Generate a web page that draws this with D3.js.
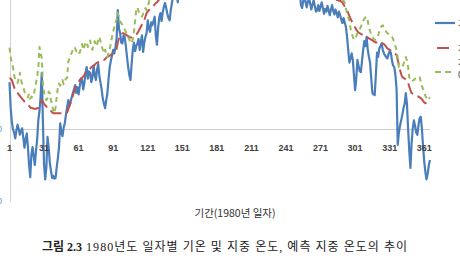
<!DOCTYPE html>
<html>
<head>
<meta charset="utf-8">
<script src="https://cdn.jsdelivr.net/npm/d3@7"></script>
<style>
  body { margin: 0; background: #fff; }
  svg { display: block; }
</style>
</head>
<body>
<div id="chart"></div>
<script>
// daily air temperature, 1980 (day 1..366)
var airTemp = [
  6.5, 3.0, 1.0, 0.0, -0.5, -1.3, -0.2, 0.6, 0.0, -0.8,        // 1
  -0.3, 0.1, -1.2, -2.6, -1.5, -0.6, -2.5, -5.0, -6.7, -3.6,   // 11
  -2.5, -3.8, -5.0, -3.0, -1.5, 1.2, 2.5, 4.5, 7.8, 1.0,       // 21
  -5.0, -7.0, -5.3, -1.1, -2.5, -4.7, -5.8, -6.8, -6.5, -6.9,  // 31
  -6.8, -5.3, -4.0, -2.5, 0.8, -0.5, -1.0, 0.2, 0.8, 2.0,      // 41
  3.0, 4.0, 3.2, 3.8, 4.4, 5.0, 5.5, 6.1, 5.0, 5.8,            // 51
  4.8, 6.0, 7.0, 6.8, 5.5, 6.4, 7.8, 8.6, 7.0, 8.0,            // 61
  7.8, 6.5, 7.2, 8.8, 7.5, 6.8, 8.2, 9.0, 7.4, 6.4,            // 71
  5.5, 4.2, 3.5, 2.9, 4.0, 5.0, 7.0, 8.6, 9.5, 10.2,           // 81
  11.0, 10.5, 11.4, 12.6, 16.5, 14.0, 13.3, 12.0, 11.9, 13.0,  // 91
  12.8, 11.5, 10.0, 8.6, 7.5, 6.8, 9.0, 11.0, 12.0, 10.8,      // 101
  11.5, 11.9, 12.5, 11.0, 12.2, 13.0, 10.7, 12.0, 12.8, 13.3,  // 111
  15.1, 14.0, 13.5, 14.8, 14.4, 15.0, 15.6, 13.0, 11.7, 14.0,  // 121
  15.5, 16.1, 15.0, 16.2, 17.0, 17.5, 16.8, 16.0, 15.4, 15.1,  // 131
  16.5, 17.5, 18.5, 19.0, 18.2, 19.5, 17.6, 19.0, 18.6, 20.0,  // 141
  19.5, 20.3, 21.0, 20.2, 19.4, 20.8, 21.5, 22.0, 21.2, 20.5,  // 151
  21.8, 22.5, 21.9, 20.8, 21.6, 22.8, 23.1, 22.4, 21.5, 22.2,  // 161
  23.0, 22.6, 21.8, 22.9, 23.5, 22.8, 22.0, 23.2, 24.0, 23.4,  // 171
  22.6, 23.8, 24.5, 23.7, 22.9, 23.5, 24.6, 25.1, 24.2, 23.6,  // 181
  24.8, 25.5, 24.9, 24.0, 25.2, 25.9, 25.0, 24.3, 25.6, 26.2,  // 191
  25.4, 24.7, 25.8, 26.5, 25.7, 24.9, 25.9, 26.4, 25.6, 24.8,  // 201
  25.5, 26.1, 25.3, 24.6, 25.4, 26.0, 25.1, 24.3, 25.0, 25.6,  // 211
  24.8, 24.0, 24.7, 25.3, 24.4, 23.6, 24.2, 24.9, 24.0, 23.2,  // 221
  23.8, 24.3, 23.4, 22.6, 23.1, 22.5, 21.7, 22.4, 22.9, 21.9,  // 231
  21.2, 21.8, 20.9, 20.3, 20.9, 20.1, 19.5, 20.2, 19.4, 18.8,  // 241
  19.3, 18.6, 18.9, 17.2, 16.8, 17.8, 18.4, 17.6, 16.9, 17.7,  // 251
  18.2, 17.4, 16.6, 17.3, 17.9, 17.1, 16.3, 16.5, 17.2, 16.4,  // 261
  17.0, 17.6, 16.8, 16.0, 16.7, 16.3, 17.1, 16.5, 15.8, 16.6,  // 271
  17.2, 16.4, 15.9, 16.6, 16.1, 15.5, 16.3, 15.8, 15.2, 14.7,  // 281
  15.4, 14.8, 14.2, 12.8, 11.0, 9.2, 9.8, 10.5, 9.6, 7.5,      // 291
  5.4, 7.0, 9.6, 8.8, 8.0, 7.9, 9.5, 11.0, 12.2, 11.5,         // 301
  12.8, 11.0, 10.0, 9.2, 7.0, 5.0, 4.8, 4.7, 7.5, 10.6,        // 311
  10.0, 11.2, 11.5, 11.9, 11.0, 10.5, 10.2, 10.0, 9.8, 10.4,   // 321
  10.8, 10.6, 9.5, 8.8, 8.6, 7.5, 5.5, -2.2, -0.5, 0.5,        // 331
  1.2, 2.0, 2.9, 3.5, 5.0, 3.5, 0.0, -3.0, -5.4, -2.0,         // 341
  0.0, 1.2, 0.5, -0.5, -0.8, 0.5, 1.5, 1.7, 0.0, -2.5,         // 351
  -4.5, -6.0, -7.0, -6.2, -5.0, -4.3                           // 361
];

// measured ground temperature
var groundTemp = [
  7.0, 7.0, 6.8, 6.3, 5.8, 5.4, 5.2, 5.0, 4.8, 4.6,
  4.4, 4.2, 4.0, 3.8, 3.7, 3.5, 3.4, 3.2, 3.0, 2.9,
  2.9, 2.8, 2.8, 2.8, 2.9, 2.9, 3.2, 3.6, 4.0, 3.8,
  3.5, 3.3, 3.1, 3.1, 2.9, 2.7, 2.5, 2.3, 2.2, 2.2,
  2.2, 2.2, 2.2, 2.2, 2.2, 2.2, 2.2, 2.2, 2.2, 2.2,
  2.3, 2.7, 3.2, 3.6, 4.1, 4.6, 5.2, 5.7, 6.0, 6.3,
  6.5, 6.8, 7.0, 7.1, 7.3, 7.5, 7.8, 8.0, 8.2, 8.3,
  8.4, 8.6, 8.7, 8.8, 8.9, 9.1, 9.2, 9.3, 9.4, 9.4,
  9.5, 9.6, 9.6, 9.7, 9.9, 10.0, 10.1, 10.2, 10.3, 10.4,
  10.5, 10.6, 10.7, 11.2, 12.0, 12.6, 13.0, 13.2, 13.3, 13.3,
  13.2, 13.1, 13.0, 12.9, 12.8, 12.7, 12.7, 12.8, 12.9, 13.0,
  13.1, 13.3, 13.6, 13.9, 14.2, 14.5, 14.7, 15.1, 15.6, 16.1,
  16.3, 16.5, 16.6, 16.8, 16.9, 17.1, 17.3, 17.5, 17.6, 17.8,
  18.0, 18.2, 18.4, 18.6, 18.8, 19.0, 19.2, 19.3, 19.4, 19.5,
  19.7, 19.9, 20.1, 20.3, 20.4, 20.6, 20.8, 20.9, 21.0, 21.2,
  21.4, 21.6, 21.8, 21.9, 22.0, 22.1, 22.3, 22.5, 22.6, 22.7,
  22.8, 23.0, 23.1, 23.2, 23.3, 23.5, 23.7, 23.8, 23.9, 24.0,
  24.1, 24.2, 24.3, 24.4, 24.5, 24.6, 24.6, 24.7, 24.8, 24.9,
  25.0, 25.1, 25.2, 25.3, 25.3, 25.4, 25.5, 25.6, 25.7, 25.8,
  25.9, 26.0, 26.1, 26.1, 26.2, 26.3, 26.4, 26.4, 26.5, 26.6,
  26.7, 26.7, 26.8, 26.9, 27.0, 27.0, 27.1, 27.1, 27.2, 27.2,
  27.2, 27.3, 27.3, 27.3, 27.3, 27.3, 27.2, 27.2, 27.1, 27.1,
  27.0, 26.9, 26.9, 26.8, 26.7, 26.6, 26.5, 26.4, 26.3, 26.2,
  26.1, 26.0, 25.9, 25.7, 25.6, 25.4, 25.3, 25.1, 25.0, 24.8,
  24.6, 24.5, 24.3, 24.1, 23.9, 23.7, 23.5, 23.3, 23.1, 22.9,
  22.7, 22.5, 22.3, 22.1, 21.9, 21.7, 21.5, 21.3, 21.2, 21.0,
  20.8, 20.7, 20.5, 20.4, 20.2, 20.1, 19.9, 19.8, 19.7, 19.5,
  19.4, 19.3, 19.2, 19.0, 18.9, 18.8, 18.7, 18.6, 18.5, 18.4,
  18.3, 18.2, 18.1, 18.0, 17.9, 17.9, 17.8, 17.8, 17.7, 17.6,
  17.3, 17.0, 16.7, 16.5, 16.1, 15.7, 15.3, 15.0, 14.7, 14.4,
  14.1, 13.8, 13.6, 13.4, 13.3, 13.2, 13.1, 13.0, 12.9, 12.9,
  12.8, 12.7, 12.6, 12.5, 12.4, 12.3, 12.2, 12.1, 12.0, 12.0,
  12.0, 12.0, 11.9, 11.9, 11.9, 11.8, 11.6, 11.4, 11.2, 11.1,
  11.0, 10.9, 10.8, 10.7, 10.5, 10.4, 10.3, 9.6, 8.9, 8.2,
  7.6, 7.2, 7.1, 7.0, 6.9, 6.8, 6.4, 5.9, 5.4, 5.0,
  4.9, 4.8, 4.7, 4.6, 4.5, 4.5, 4.4, 4.3, 4.1, 3.9,
  3.7, 3.6, 3.5, 3.3, 3.2, 3.1
];

// predicted ground temperature
var predTemp = [
  11.3, 10.0, 9.2, 8.6, 7.5, 6.8, 6.5, 6.4, 7.0, 7.8,
  6.8, 6.2, 5.8, 5.2, 4.8, 4.6, 4.4, 4.9, 4.2, 4.5,
  4.4, 4.8, 5.5, 6.4, 7.2, 8.5, 11.4, 10.5, 9.9, 6.4,
  5.0, 4.4, 4.0, 4.3, 5.2, 5.0, 4.0, 3.2, 2.6, 2.2,
  3.0, 4.5, 5.8, 6.3, 6.0, 6.5, 6.8, 6.2, 6.6, 7.0,
  7.1, 9.3, 9.8, 10.2, 10.6, 11.0, 11.4, 11.2, 10.8, 11.0,
  10.6, 10.6, 11.2, 11.8, 11.0, 11.5, 12.0, 12.1, 11.4, 11.8,
  12.3, 11.4, 11.0, 11.8, 12.2, 11.5, 11.7, 12.4, 12.8, 12.2,
  11.5, 11.0, 10.5, 11.0, 10.4, 10.0, 10.6, 11.0, 12.0, 12.8,
  13.5, 14.2, 14.8, 15.2, 16.1, 15.5, 15.0, 14.7, 14.5, 14.2,
  13.8, 13.5, 13.3, 12.8, 12.4, 12.0, 11.9, 12.5, 13.5, 15.0,
  16.5, 16.9, 16.4, 16.0, 15.8, 15.6, 16.0, 16.6, 16.8, 16.5,
  17.0, 17.6, 18.2, 18.5, 18.9, 19.3, 19.0, 18.6, 18.4, 19.0,
  19.6, 20.1, 20.4, 20.0, 20.6, 21.1, 21.4, 21.0, 20.6, 20.9,
  21.5, 22.0, 22.4, 22.7, 22.3, 22.9, 23.2, 22.8, 22.5, 23.1,
  23.5, 23.8, 24.2, 23.9, 23.4, 23.9, 24.4, 24.8, 24.5, 24.1,
  24.6, 25.1, 24.8, 24.2, 24.6, 25.3, 25.6, 25.3, 24.9, 25.2,
  25.7, 25.6, 25.1, 25.6, 26.1, 25.8, 25.3, 25.8, 26.4, 26.2,
  25.7, 26.3, 26.8, 26.5, 26.0, 26.3, 26.9, 27.3, 27.0, 26.6,
  27.2, 27.7, 27.4, 26.9, 27.5, 28.0, 27.6, 27.1, 27.7, 28.2,
  27.9, 27.4, 27.9, 28.4, 28.1, 27.6, 28.1, 28.5, 28.1, 27.6,
  27.9, 28.3, 27.9, 27.4, 27.8, 28.2, 27.8, 27.3, 27.6, 28.0,
  27.6, 27.1, 27.4, 27.8, 27.3, 26.8, 27.1, 27.5, 27.0, 26.5,
  26.8, 27.1, 26.6, 26.1, 26.3, 26.0, 25.5, 25.8, 26.0, 25.4,
  24.9, 25.2, 24.7, 24.2, 24.5, 24.0, 23.5, 23.8, 23.3, 22.8,
  23.0, 22.6, 22.7, 21.6, 21.2, 21.7, 22.0, 21.5, 21.0, 21.4,
  21.7, 21.2, 20.7, 21.0, 21.3, 20.8, 20.3, 20.4, 20.8, 20.3,
  20.6, 20.9, 20.4, 19.9, 20.2, 19.9, 20.3, 19.9, 19.4, 19.8,
  20.1, 19.6, 19.2, 19.5, 19.1, 18.7, 19.0, 18.7, 18.3, 18.0,
  17.8, 17.5, 16.8, 16.0, 15.5, 15.1, 14.0, 13.3, 12.8, 12.4,
  12.5, 12.9, 13.3, 13.6, 13.9, 14.2, 14.6, 15.0, 15.3, 15.5,
  15.6, 15.0, 14.2, 13.6, 13.1, 12.8, 12.6, 12.4, 12.4, 12.5,
  13.0, 13.6, 14.0, 14.3, 14.4, 14.1, 13.8, 13.5, 13.3, 13.2,
  13.0, 12.9, 12.8, 12.5, 12.0, 11.5, 11.0, 9.8, 8.6, 8.5,
  8.6, 8.6, 9.0, 9.5, 10.0, 9.5, 8.6, 7.2, 6.8, 6.6,
  6.7, 6.8, 7.0, 7.2, 7.3, 7.3, 7.2, 6.6, 6.0, 5.5,
  5.0, 4.6, 4.3, 4.0, 4.2, 4.4
];

var xTicks = [1, 31, 61, 91, 121, 151, 181, 211, 241, 271, 301, 331, 361];
var yTicks = [-10, 0];
var seriesNames = [["기온"], ["지중 온도"], ["지중 온도", "0.5m 예측"]];
var seriesColors = ["#4a7ebb", "#c0504d", "#9bbb59"];
var xTitle = "기간(1980년 일자)";
var captionBold = "그림 2.3";
var captionText = "1980년도 일자별 기온 및 지중 온도, 예측 지중 온도의 추이";

var w = 460, h = 269;
var svg = d3.select("#chart").append("svg")
    .attr("width", w)
    .attr("height", h);

var x = d3.scaleLinear().domain([1, 366]).range([9.5, 430]);
var y = d3.scaleLinear().domain([-10, 20]).range([201, -15]);

// value axis (left) and zero line
svg.append("line")
    .attr("x1", 10.5).attr("x2", 10.5)
    .attr("y1", 0).attr("y2", y(-10) + 1)
    .attr("stroke", "#d4d4d4").attr("stroke-width", 1);
svg.append("line")
    .attr("x1", 10).attr("x2", x(366))
    .attr("y1", Math.round(y(0)) + 0.5).attr("y2", Math.round(y(0)) + 0.5)
    .attr("stroke", "#cfcfcf").attr("stroke-width", 1);

svg.selectAll(".ylab")
    .data(yTicks)
  .enter().append("text")
    .attr("class", "ylab")
    .attr("x", 2)
    .attr("y", function(d) { return y(d) + 3; })
    .attr("text-anchor", "end")
    .attr("font-family", "Liberation Sans, Arial, sans-serif")
    .attr("font-size", 9)
    .attr("fill", "#5b9bd5")
    .text(function(d) { return d; });

var days = d3.range(1, 367);
var line = function(vals) {
  return d3.line()
      .x(function(d, i) { return x(days[i]); })
      .y(function(d) { return y(d); })(vals);
};

var series = [
  { vals: airTemp, dash: null, width: 2.2 },
  { vals: groundTemp, dash: "12,5", width: 2 },
  { vals: predTemp, dash: "5,4", width: 2 }
];

svg.selectAll(".series")
    .data(series)
  .enter().append("path")
    .attr("class", "series")
    .attr("d", function(d) { return line(d.vals); })
    .attr("fill", "none")
    .attr("stroke", function(d, i) { return seriesColors[i]; })
    .attr("stroke-width", function(d) { return d.width; })
    .attr("stroke-dasharray", function(d) { return d.dash; })
    .attr("stroke-linejoin", "round");

// category labels
svg.selectAll(".xlab")
    .data(xTicks)
  .enter().append("text")
    .attr("class", "xlab")
    .attr("x", function(d) { return x(d); })
    .attr("y", 151)
    .attr("text-anchor", "middle")
    .attr("font-family", "Liberation Sans, Arial, sans-serif")
    .attr("font-weight", "bold")
    .attr("font-size", 9)
    .attr("fill", "#404040")
    .text(function(d) { return d; });

svg.append("text")
    .attr("x", 235)
    .attr("y", 217)
    .attr("text-anchor", "middle")
    .attr("font-family", "Noto Sans CJK KR, sans-serif")
    .attr("font-size", 10.5)
    .attr("fill", "#333")
    .text(xTitle);

// legend, clipped by the right edge
var legY = [23, 48, 72];
var leg = svg.selectAll(".leg")
    .data(series)
  .enter().append("g")
    .attr("class", "leg")
    .attr("transform", function(d, i) { return "translate(435," + legY[i] + ")"; });
leg.append("line")
    .attr("x1", function(d, i) { return i == 1 ? 2 : 0; })
    .attr("x2", function(d, i) { return i == 1 ? 14 : 20; })
    .attr("stroke", function(d, i) { return seriesColors[i]; })
    .attr("stroke-width", function(d) { return d.width; })
    .attr("stroke-dasharray", function(d, i) { return i == 2 ? "6,4" : null; });
leg.each(function(d, i) {
  var lines = seriesNames[i];
  var t = d3.select(this).append("text")
      .attr("x", 23)
      .attr("y", lines.length > 1 ? -6 : 4)
      .attr("font-family", "Noto Sans CJK KR, sans-serif")
      .attr("font-size", 9)
      .attr("fill", "#404040");
  lines.forEach(function(s, k) {
    t.append("tspan").attr("x", 23).attr("dy", k ? 12 : 0).text(s);
  });
});

// figure caption
var cap = svg.append("text")
    .attr("x", 42)
    .attr("y", 251)
    .attr("font-family", "Liberation Serif, Noto Sans CJK KR, serif")
    .attr("font-size", 12)
    .attr("fill", "#222");
cap.append("tspan")
    .attr("font-weight", "bold")
    .text(captionBold);
cap.append("tspan")
    .attr("dx", 4)
    .attr("textLength", 321)
    .attr("lengthAdjust", "spacing")
    .text(captionText);
</script>
</body>
</html>
